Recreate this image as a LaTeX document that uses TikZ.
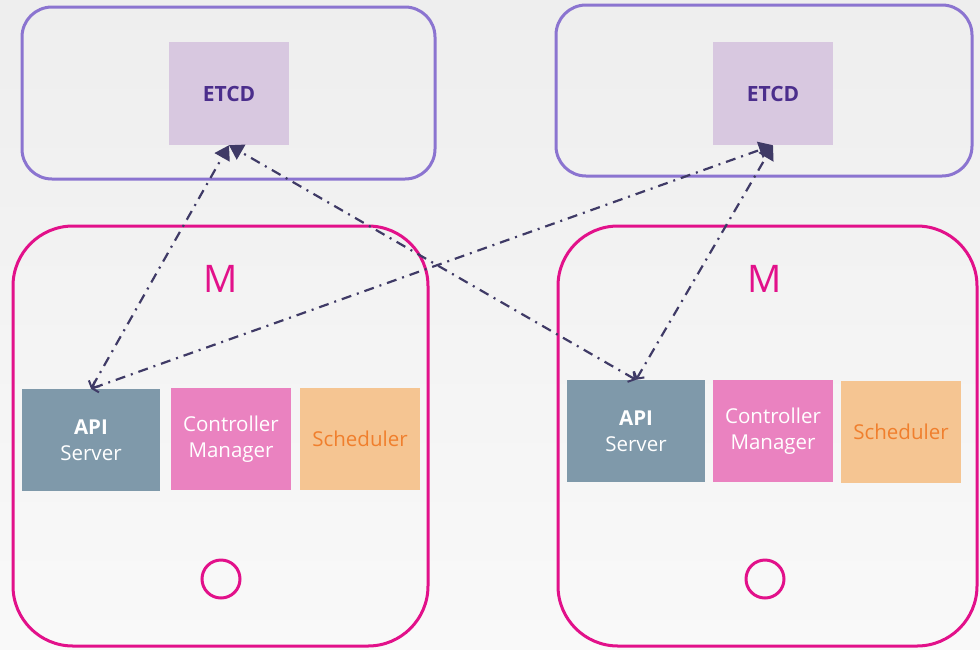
\documentclass[tikz,border=0pt]{standalone}
\usepackage{fontspec}
\setmainfont{Open Sans}
\usetikzlibrary{arrows.meta}
\definecolor{bgtop}{HTML}{EEEEEE}
\definecolor{bgbot}{HTML}{F9F9F9}
\definecolor{clusterline}{HTML}{8B74D0}
\definecolor{etcdfill}{HTML}{D8C8E0}
\definecolor{etcdtext}{HTML}{4B2E8C}
\definecolor{mag}{HTML}{E2118A}
\definecolor{apifill}{HTML}{7F99AA}
\definecolor{cmfill}{HTML}{EA82C0}
\definecolor{schfill}{HTML}{F5C592}
\definecolor{schtext}{HTML}{F07F2D}
\definecolor{linkcol}{HTML}{3F3A66}
\tikzset{
  clusterbox/.style={draw=clusterline, line width=3pt, rounded corners=30pt},
  masterbox/.style={draw=mag, line width=3pt, rounded corners=60pt},
  etcdbox/.style={fill=etcdfill, minimum width=120pt, minimum height=103pt, inner sep=0pt,
    text=etcdtext, font=\fontsize{21}{25}\selectfont\bfseries},
  comp/.style={minimum width=120pt, minimum height=102pt, inner sep=0pt, align=center,
    font=\fontsize{20.5}{26}\selectfont},
  apibox/.style={comp, fill=apifill, text=white, minimum width=138pt},
  cmbox/.style={comp, fill=cmfill, text=white},
  schbox/.style={comp, fill=schfill, text=schtext},
  mlabel/.style={text=mag, font=\fontsize{38}{40}\selectfont},
  btn/.style={draw=mag, line width=3pt, circle, minimum size=38pt, inner sep=0pt},
  link/.style={draw=linkcol, line width=2.2pt,
    dash pattern=on 10pt off 6pt on 2pt off 6pt,
    {Straight Barb[length=5pt,width=12pt,line width=2pt]}-{Triangle[length=14pt,width=17pt]}}
}
\begin{document}
\begin{tikzpicture}[x=1pt,y=-1pt]
\useasboundingbox (0,0) rectangle (980,649);
\shade[top color=bgtop, bottom color=bgbot] (0,0) rectangle (980,649);
% etcd clusters
\draw[clusterbox] (22,7) rectangle (435,179);
\draw[clusterbox] (556,5) rectangle (972,176);
\node[etcdbox] (etcdL) at (229,93.5) {ETCD};
\node[etcdbox] (etcdR) at (773,93.5) {ETCD};
% masters
\draw[masterbox] (13,226) rectangle (428,646);
\draw[masterbox] (558,226) rectangle (977,646);
\node[mlabel] (mL) at (221,279) {M};
\node[mlabel] (mR) at (765,279) {M};
\node[apibox] (apiL) at (91,440) {\textbf{API}\\Server};
\node[cmbox] (cmL) at (231,439) {Controller\\Manager};
\node[schbox] (schL) at (360,439) {Scheduler};
\node[apibox] (apiR) at (636,431) {\textbf{API}\\Server};
\node[cmbox] (cmR) at (773,431) {Controller\\Manager};
\node[schbox] (schR) at (901,432) {Scheduler};
\node[btn] (bL) at (221,579) {};
\node[btn] (bR) at (765,579) {};
% links
\draw[link] (apiL.north) -- (etcdL.south);
\draw[link] (apiL.north) -- (etcdR.south);
\draw[link] (apiR.north) -- (etcdL.south);
\draw[link] (apiR.north) -- (etcdR.south);
\end{tikzpicture}
\end{document}
